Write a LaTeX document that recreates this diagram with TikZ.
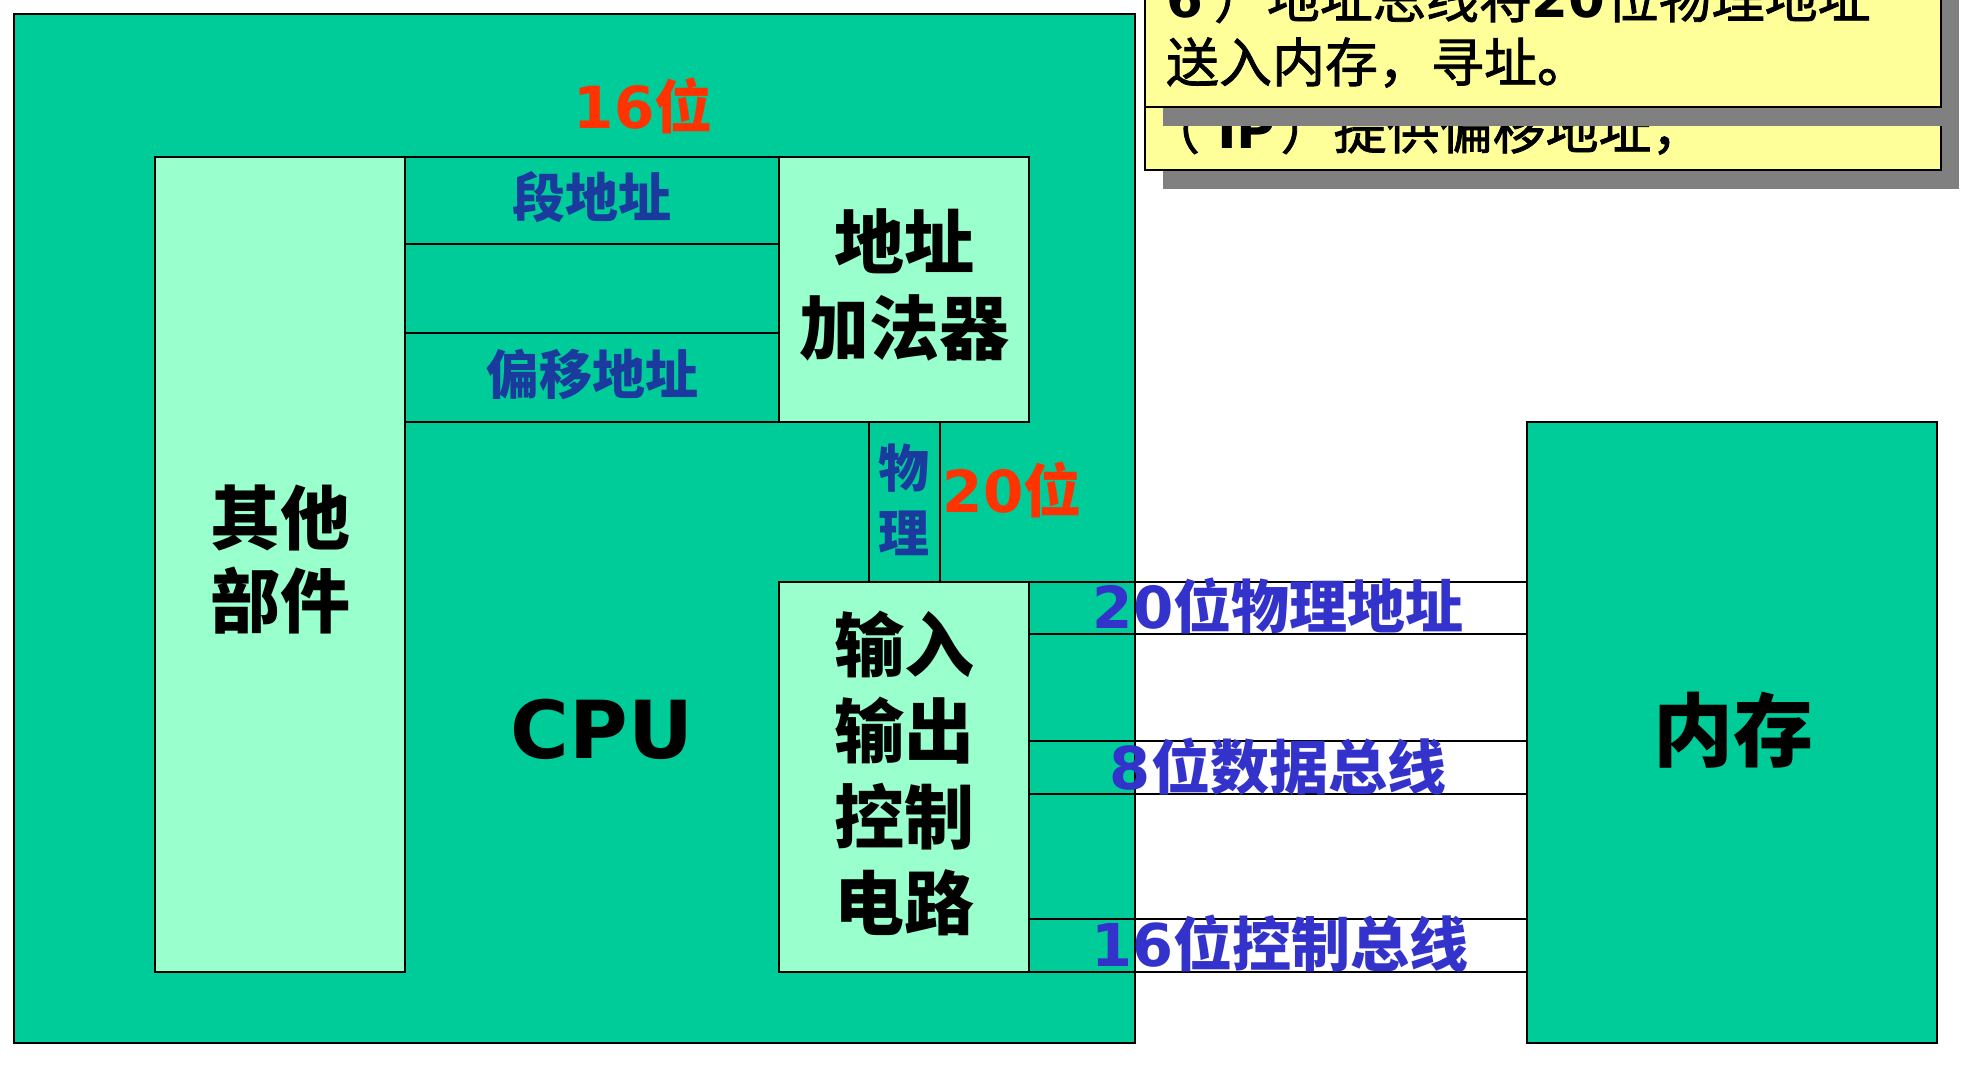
\documentclass[tikz,border=0pt]{standalone}
\usepackage{fontspec}
\newfontfamily\cjk{Noto Sans CJK SC}
\newfontfamily\cjkm{Noto Sans CJK SC}[FakeBold=1.5]
\newfontfamily\dv{DejaVu Sans}
\newcommand\D[1]{{\dv\bfseries #1}}
\newcommand\fsz[2]{\fontsize{#1}{#2}\selectfont}
\definecolor{cpugreen}{HTML}{00CC99}
\definecolor{lightgreen}{HTML}{99FFCC}
\definecolor{dblue}{HTML}{1A3A9E}
\definecolor{busblue}{HTML}{3333CC}
\definecolor{redlbl}{HTML}{FF3300}
\definecolor{noteyellow}{HTML}{FFFF99}
\definecolor{shadowgray}{HTML}{808080}
\begin{document}
\begin{tikzpicture}[x=1pt,y=-1pt,
  dk/.style={draw=black,line width=2pt},
  grn/.style={dk, fill=cpugreen, inner sep=0pt, outer sep=0pt, anchor=north west},
  lgr/.style={dk, fill=lightgreen, inner sep=0pt, outer sep=0pt, anchor=north west},
  note/.style={dk, fill=noteyellow, inner sep=0pt, outer sep=0pt, anchor=north west},
  shade/.style={fill=shadowgray, inner sep=0pt, outer sep=0pt, anchor=north west},
  lbl/.style={inner sep=0pt, outer sep=0pt, align=center},
  notetext/.style={inner sep=0pt, outer sep=0pt, anchor=base west, font=\cjkm\fsz{53}{64}},
  bus/.style={draw=black, line width=2pt},
]
\useasboundingbox (0,0) rectangle (1980,1070);
\fill[white] (0,0) rectangle (1980,1070);

% notes (top right)
\node[shade, minimum width=796pt, minimum height=230pt] (backshadow) at (1163,-41) {};
\node[note, minimum width=796pt, minimum height=230pt] (backnote) at (1145,-60) {};
\node[notetext] (backtext) at (1147,149) {（\hspace{17pt}\D{IP}\hspace{5pt}）提供偏移地址，};
\node[shade, minimum width=796pt, minimum height=207pt] (frontshadow) at (1163,-81) {};
\node[note, minimum width=796pt, minimum height=207pt] (frontnote) at (1145,-100) {};
\node[notetext] (frontline1) at (1166,18) {\D{6}\hspace{11pt}）地址总线将\D{20}位物理地址};
\node[notetext] (frontline2) at (1166,82) {送入内存，寻址。};

% CPU
\node[grn, minimum width=1121pt, minimum height=1029pt] (cpu) at (14,14) {};
\node[lgr, minimum width=250pt, minimum height=815pt] (other) at (155,157) {};
\node[grn, minimum width=374pt, minimum height=87pt] (seg) at (405,157) {};
\node[grn, minimum width=374pt, minimum height=89pt] (mid) at (405,244) {};
\node[grn, minimum width=374pt, minimum height=89pt] (off) at (405,333) {};
\node[lgr, minimum width=250pt, minimum height=265pt] (adder) at (779,157) {};
\node[grn, minimum width=71pt, minimum height=160pt] (phys) at (869,422) {};
\node[lgr, minimum width=250pt, minimum height=390pt] (io) at (779,582) {};

% memory
\node[grn, minimum width=410pt, minimum height=621pt] (mem) at (1527,422) {};

% buses
\coordinate (b1) at (0,582);
\coordinate (b2) at (0,634);
\coordinate (b3) at (0,741);
\coordinate (b4) at (0,794);
\coordinate (b5) at (0,919);
\coordinate (b6) at (0,972);
\foreach \b in {b1,b2,b3,b4,b5,b6}{
  \draw[bus] (io.east |- \b) -- (mem.west |- \b);
}

% labels
\node[lbl, text=redlbl, font=\cjk\bfseries\fsz{58}{70}] (t16) at (643,106) {\D{16}位};
\node[lbl, text=dblue, font=\cjk\bfseries\fsz{53}{64}] (tseg) at (592,197) {段地址};
\node[lbl, text=dblue, font=\cjk\bfseries\fsz{53}{64}] (toff) at (592,374) {偏移地址};
\node[lbl, font=\cjk\bfseries\fsz{70}{86}] (tadd) at (904,285) {地址\\加法器};
\node[lbl, font=\cjk\bfseries\fsz{70}{83}] (tother) at (280,560) {其他\\部件};
\node[lbl, text=dblue, font=\cjk\bfseries\fsz{51}{65}] (tphys) at (904,500) {物\\理};
\node[lbl, text=redlbl, font=\cjk\bfseries\fsz{58}{70}] (t20) at (1012,490) {\D{20}位};
\node[lbl, font=\dv\bfseries\fsz{80}{96}] (tcpu) at (602,729) {CPU};
\node[lbl, font=\cjk\bfseries\fsz{70}{86}] (tio) at (904,773) {输入\\输出\\控制\\电路};
\node[lbl, font=\cjk\bfseries\fsz{80}{96}] (tmem) at (1733,730) {内存};
\node[lbl, text=busblue, font=\cjk\bfseries\fsz{58}{68}] (tbus1) at (1278,606) {\D{20}位物理地址};
\node[lbl, text=busblue, font=\cjk\bfseries\fsz{59}{68}] (tbus2) at (1278,767) {\D{8}位数据总线};
\node[lbl, text=busblue, font=\cjk\bfseries\fsz{59}{68}] (tbus3) at (1280,944) {\D{16}位控制总线};
\end{tikzpicture}
\end{document}
